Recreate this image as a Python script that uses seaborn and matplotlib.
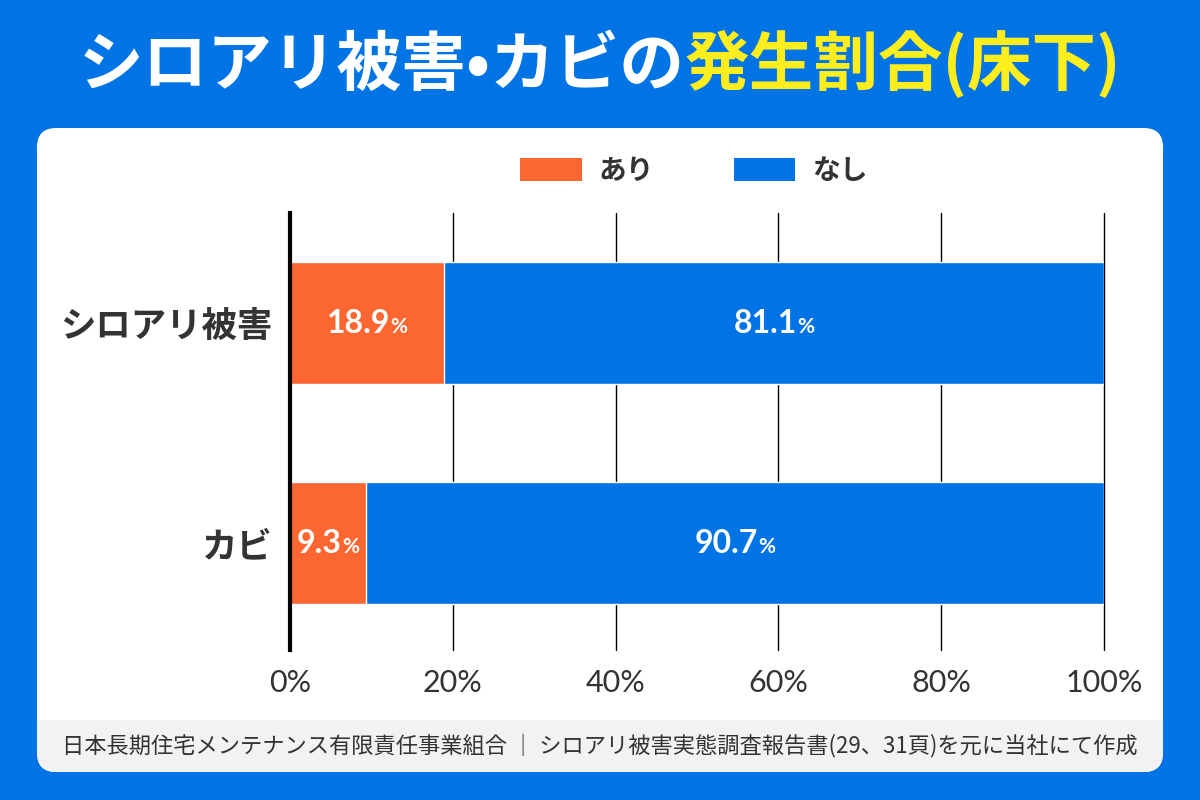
import matplotlib
matplotlib.use("Agg")
import matplotlib.pyplot as plt
import seaborn as sns
import pandas as pd
from matplotlib.patches import FancyBboxPatch, Rectangle, Patch
from matplotlib.offsetbox import TextArea, HPacker, AnnotationBbox

# data
categories = ["シロアリ被害", "カビ"]
ari = [18.9, 9.3]      # あり
nashi = [81.1, 90.7]   # なし
legend_labels = ["あり", "なし"]
xticks = [0, 20, 40, 60, 80, 100]
xtick_labels = ["0%", "20%", "40%", "60%", "80%", "100%"]

BLUE = "#0074E4"
ORANGE = "#FC6631"
DARK = "#333333"

sns.set_style("white")
plt.rcParams['font.family'] = ['Noto Sans CJK JP', 'DejaVu Sans']
NUMFONT = ['Lato', 'DejaVu Sans']

df = pd.DataFrame({"cat": categories, "ari": ari, "nashi": nashi})
df["total"] = df["ari"] + df["nashi"]

fig = plt.figure(figsize=(12, 8), dpi=100)
fig.patch.set_facecolor(BLUE)

# white card with grey footer band
panel = FancyBboxPatch((37 / 1200, 1 - 772 / 800), 1126 / 1200, 644 / 800,
                       boxstyle="round,pad=0,rounding_size=0.016", mutation_aspect=1.5,
                       transform=fig.transFigure, facecolor="white", edgecolor="none", zorder=-2)
fig.patches.append(panel)
footer = Rectangle((37 / 1200, 1 - 772 / 800), 1126 / 1200, 52 / 800,
                   transform=fig.transFigure, facecolor="#F2F2F2", edgecolor="none", zorder=-1)
footer.set_clip_path(panel)
fig.patches.append(footer)

ax = fig.add_axes([290 / 1200, 1 - 650 / 800, 814 / 1200, 437 / 800])
ax.patch.set_alpha(0)

# stacked bars: total (blue) first, then あり (orange) on top
sns.barplot(data=df, x="total", y="cat", color=BLUE, width=0.555, saturation=1, ax=ax, zorder=2)
sns.barplot(data=df, x="ari", y="cat", color=ORANGE, width=0.555, saturation=1, ax=ax, zorder=3)

ax.set_xlim(0, 100)
ax.set_ylim(1.486, -0.5)
ax.set_xticks(xticks)
ax.set_xticklabels(xtick_labels, fontsize=22, color=DARK, family=NUMFONT)
ax.set_xlabel("")
ax.set_ylabel("")
ax.tick_params(axis="x", length=0, pad=14)
ax.tick_params(axis="y", length=0, pad=13)
for lab in ax.get_yticklabels():
    lab.set_fontsize(25.5)
    lab.set_fontweight("bold")
    lab.set_color(DARK)

ax.set_axisbelow(True)
ax.grid(axis="x", color="black", linewidth=1)
ax.grid(axis="y", visible=False)
for gl in ax.get_xgridlines():
    gl.set_clip_on(False)
for s in ["top", "right", "bottom"]:
    ax.spines[s].set_visible(False)
ax.spines["left"].set_linewidth(3)
ax.spines["left"].set_color("black")
ax.spines["left"].set_zorder(5)


def bar_label(x, y, value):
    num = TextArea(f"{value:.1f}", textprops=dict(color="white", fontsize=23, fontweight="bold",
                                                  family=NUMFONT))
    pct = TextArea("%", textprops=dict(color="white", fontsize=15, fontweight="bold", family=NUMFONT))
    box = HPacker(children=[num, pct], align="baseline", pad=0, sep=0)
    ab = AnnotationBbox(box, (x, y), xycoords="data", frameon=False,
                        box_alignment=(0.5, 0.5), zorder=6)
    ax.add_artist(ab)


for i in range(len(categories)):
    bar_label(ari[i] / 2, i, ari[i])
    bar_label(ari[i] + nashi[i] / 2, i, nashi[i])

# legend
handles = [Patch(facecolor=ORANGE, edgecolor="none"), Patch(facecolor=BLUE, edgecolor="none")]
leg = fig.legend(handles, legend_labels, loc="center", bbox_to_anchor=(694 / 1200, 1 - 171 / 800),
                 ncol=2, frameon=False, handlelength=2.2, handleheight=0.9,
                 handletextpad=0.6, columnspacing=2.9,
                 prop=dict(family=['Noto Sans CJK JP', 'DejaVu Sans'], size=20, weight="bold"))
for t in leg.get_texts():
    t.set_color(DARK)

# title in two colours
t1 = TextArea("シロアリ被害•カビの", textprops=dict(color="white", fontsize=46.5, fontweight="bold"))
t2 = TextArea("発生割合(床下)", textprops=dict(color="#FFEE1E", fontsize=46.5, fontweight="bold"))
title_box = HPacker(children=[t1, t2], align="baseline", pad=0, sep=0)
tab = AnnotationBbox(title_box, (0.5, 1 - 65 / 800), xycoords="figure fraction", frameon=False,
                     box_alignment=(0.5, 0.5), annotation_clip=False)
ax.add_artist(tab)

fig.text(0.5, 1 - 746 / 800,
         "日本長期住宅メンテナンス有限責任事業組合 ｜ シロアリ被害実態調査報告書(29、31頁)を元に当社にて作成",
         ha="center", va="center", fontsize=16, color=DARK)

plt.savefig("out.png", dpi=100, facecolor=fig.get_facecolor())
